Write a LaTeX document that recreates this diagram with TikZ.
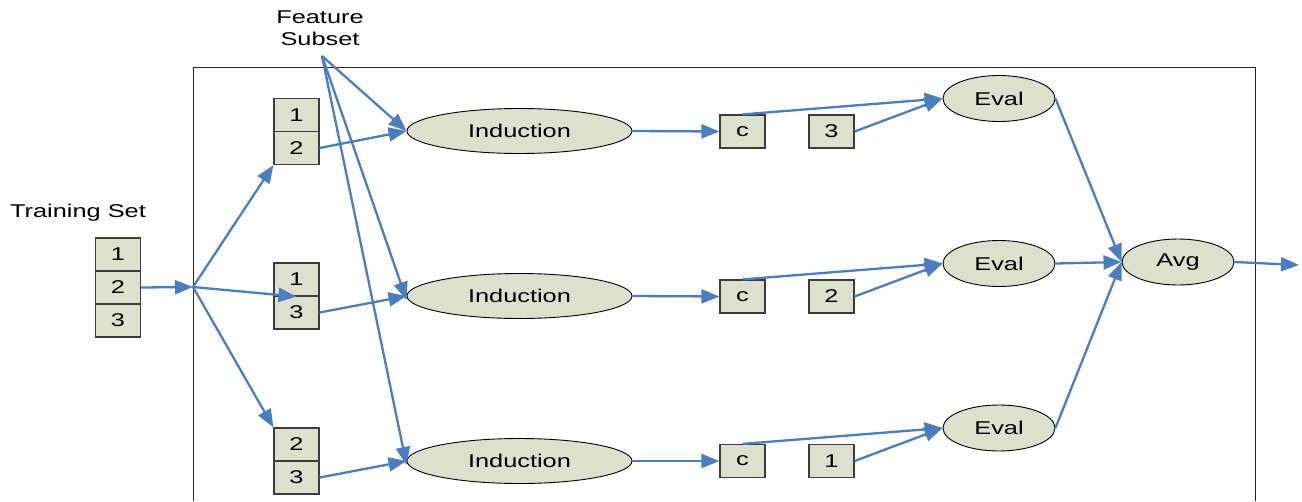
\documentclass[tikz,border=0pt]{standalone}
\usepackage{fontspec}
\setmainfont{Liberation Sans}
\usepackage{graphicx}
\usetikzlibrary{arrows.meta,shapes.geometric}
\definecolor{boxfill}{RGB}{221,224,204}
\definecolor{boxline}{RGB}{60,60,60}
\definecolor{arrowblue}{RGB}{74,126,193}
\newcommand{\stx}[1]{\scalebox{1.37}[1]{#1}}
\begin{document}
\begin{tikzpicture}[x=1pt,y=-1pt,
  every node/.style={font=\fontsize{18.5}{22}\selectfont, inner sep=0pt},
  cell/.style={draw=boxline, line width=1.2pt, fill=boxfill, rectangle, minimum width=45pt, minimum height=33pt},
  indell/.style={draw=black, line width=0.9pt, fill=boxfill, ellipse, minimum width=225pt, minimum height=45pt},
  smell/.style={draw=black, line width=0.9pt, fill=boxfill, ellipse, minimum width=112pt, minimum height=46pt},
  label/.style={align=center},
  conn/.style={draw=arrowblue, line width=2.3pt, -{Triangle[length=18pt,width=14pt]}},
  frame/.style={draw=black!85, line width=1pt}]
\useasboundingbox (0,0) rectangle (1302,501);
% frame
\draw[frame] (193,501) -- (193,67) -- (1255,67) -- (1255,501);
% labels
\node[label] (fslab) at (320,28) {\stx{Feature}\\[0pt]\stx{Subset}};
\node[label] (tslab) at (78,213) {\stx{Training Set}};
\coordinate (fsp) at (322,56);
\coordinate (sp) at (193,287);
\coordinate (out) at (1299,265);
% training set
\node[cell] (ts1) at (118,254.5) {\stx{1}};
\node[cell] (ts2) at (118,287.5) {\stx{2}};
\node[cell] (ts3) at (118,320.5) {\stx{3}};
% pairs
\node[cell] (p1a) at (296.5,115) {\stx{1}};
\node[cell] (p1b) at (296.5,148) {\stx{2}};
\node[cell] (p2a) at (296.5,279.5) {\stx{1}};
\node[cell] (p2b) at (296.5,312.5) {\stx{3}};
\node[cell] (p3a) at (296.5,444.5) {\stx{2}};
\node[cell] (p3b) at (296.5,477.5) {\stx{3}};
% induction
\node[indell] (ind1) at (519.5,131) {\stx{Induction}};
\node[indell] (ind2) at (519.5,296) {\stx{Induction}};
\node[indell] (ind3) at (519.5,461) {\stx{Induction}};
% c boxes
\node[cell] (c1) at (742.5,131.5) {\stx{c}};
\node[cell] (c2) at (742.5,296.5) {\stx{c}};
\node[cell] (c3) at (742.5,461) {\stx{c}};
% number boxes
\node[cell] (n1) at (831.5,131.5) {\stx{3}};
\node[cell] (n2) at (831.5,296.5) {\stx{2}};
\node[cell] (n3) at (831.5,461) {\stx{1}};
% eval
\node[smell] (ev1) at (999,98.5) {\stx{Eval}};
\node[smell] (ev2) at (999,263.5) {\stx{Eval}};
\node[smell] (ev3) at (999,428) {\stx{Eval}};
% avg
\node[smell] (avg) at (1178,262) {\stx{Avg}};
% connectors
\draw[conn] (ts2.east) -- (sp);
\draw[conn] (sp) -- (p1b.south west);
\draw[conn] (sp) -- (p2a.south);
\draw[conn] (sp) -- (p3a.north west);
\draw[conn] (p1b.east) -- (ind1.west);
\draw[conn] (p2b.east) -- (ind2.west);
\draw[conn] (p3b.east) -- (ind3.west);
\draw[conn] (fsp) -- (ind1.west);
\draw[conn] (fsp) -- ([yshift=-4pt]ind2.west);
\draw[conn] (fsp) -- ([yshift=-4pt]ind3.west);
\draw[conn] (ind1.east) -- (c1.west);
\draw[conn] (ind2.east) -- (c2.west);
\draw[conn] (ind3.east) -- (c3.west);
\draw[conn] (c1.north) -- (ev1.west);
\draw[conn] (c2.north) -- (ev2.west);
\draw[conn] (c3.north) -- (ev3.west);
\draw[conn] (n1.east) -- (ev1.west);
\draw[conn] (n2.east) -- (ev2.west);
\draw[conn] (n3.east) -- (ev3.west);
\draw[conn] (ev1.east) -- (avg.west);
\draw[conn] (ev2.east) -- (avg.west);
\draw[conn] (ev3.east) -- (avg.west);
\draw[conn] (avg.east) -- (out);
\end{tikzpicture}
\end{document}
